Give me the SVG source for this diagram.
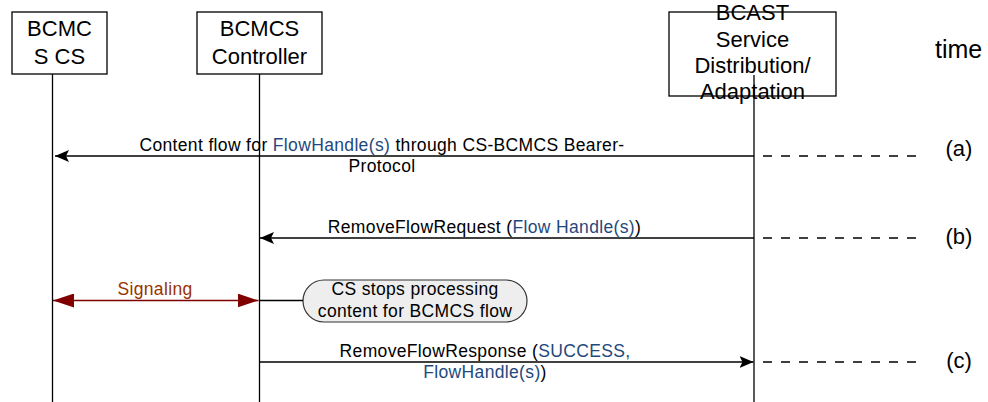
<svg xmlns="http://www.w3.org/2000/svg" width="988" height="402" viewBox="0 0 988 402">
<defs>
<style>
text{font-family:"Liberation Sans",Arial,sans-serif;fill:#000}
.box{fill:#fff;stroke:#000;stroke-width:1.3}
.life{stroke:#000;stroke-width:1.3;fill:none}
.big{font-size:22px;text-anchor:middle}
.msg{font-size:17.5px;letter-spacing:0.35px;text-anchor:middle}
.lbl{font-size:22px;text-anchor:middle}
.blue{fill:#1f497d}
.arrow{stroke:#000;stroke-width:1.3;fill:none}
.dash{stroke:#000;stroke-width:1.3;stroke-dasharray:9 9;fill:none}
.sig{stroke:#800000;stroke-width:1.5;fill:none}
</style>
<marker id="ah" viewBox="0 0 14 12" refX="14" refY="6" markerWidth="14" markerHeight="12" markerUnits="userSpaceOnUse" orient="auto-start-reverse">
<path d="M0,0 L14,6 L0,12 L3,6 Z" fill="#000"/>
</marker>
<marker id="rh" viewBox="0 0 21 14" refX="21" refY="7" markerWidth="21" markerHeight="14" markerUnits="userSpaceOnUse" orient="auto-start-reverse">
<path d="M0,0 L21,7 L0,14 Z" fill="#800000"/>
</marker>
</defs>
<rect width="988" height="402" fill="#fff"/>

<g id="cs">
<rect class="box" x="12" y="12" width="95" height="62"/>
<text class="big" x="59.5" y="36">BCMC</text>
<text class="big" x="59.5" y="64">S CS</text>
<line class="life" x1="52.5" y1="74" x2="52.5" y2="402"/>
</g>

<g id="controller">
<rect class="box" x="197" y="12" width="125" height="62"/>
<text class="big" x="259.5" y="36">BCMCS</text>
<text class="big" x="259.5" y="64">Controller</text>
<line class="life" x1="259.5" y1="74" x2="259.5" y2="402"/>
</g>

<g id="bcast">
<rect class="box" x="669" y="12" width="167" height="84"/>
<text class="big" x="752.5" y="20">BCAST</text>
<text class="big" x="752.5" y="47">Service</text>
<text class="big" x="752.5" y="73">Distribution/</text>
<text class="big" x="752.5" y="99">Adaptation</text>
<line class="life" x1="754" y1="75" x2="754" y2="402"/>
</g>

<g id="time">
<text x="935" y="58" style="font-size:25px">time</text>
</g>

<g id="note">
<rect x="303" y="280" width="224" height="42" rx="21" ry="21" fill="#eeeeee" stroke="#333" stroke-width="1.2"/>
<text class="msg" x="415" y="295">CS stops processing</text>
<text class="msg" x="415" y="317">content for BCMCS flow</text>
</g>

<g id="connectors">
<line class="arrow" x1="754" y1="156" x2="55" y2="156" marker-end="url(#ah)"/>
<line class="dash" x1="763" y1="156" x2="918" y2="156"/>
<text class="msg" x="382" y="151">Content flow for <tspan class="blue">FlowHandle(s)</tspan> through CS-BCMCS Bearer-</text>
<text class="msg" x="382" y="172">Protocol</text>
<text class="lbl" x="959" y="156">(a)</text>

<line class="arrow" x1="754" y1="238" x2="260" y2="238" marker-end="url(#ah)"/>
<line class="dash" x1="763" y1="238" x2="918" y2="238"/>
<text class="msg" x="484.5" y="233">RemoveFlowRequest (<tspan class="blue">Flow Handle(s)</tspan>)</text>
<text class="lbl" x="959" y="244">(b)</text>

<line class="sig" x1="53" y1="300.5" x2="258.5" y2="300.5" marker-start="url(#rh)" marker-end="url(#rh)"/>
<text class="msg" x="155" y="295" style="fill:#993300">Signaling</text>
<line class="arrow" x1="260" y1="300.5" x2="303" y2="300.5"/>

<line class="arrow" x1="259.5" y1="362" x2="753.5" y2="362" marker-end="url(#ah)"/>
<line class="dash" x1="763" y1="362" x2="918" y2="362"/>
<text class="msg" x="485" y="357">RemoveFlowResponse (<tspan class="blue">SUCCESS,</tspan></text>
<text class="msg" x="485" y="378"><tspan class="blue">FlowHandle(s)</tspan>)</text>
<text class="lbl" x="959" y="368">(c)</text>
</g>
</svg>
